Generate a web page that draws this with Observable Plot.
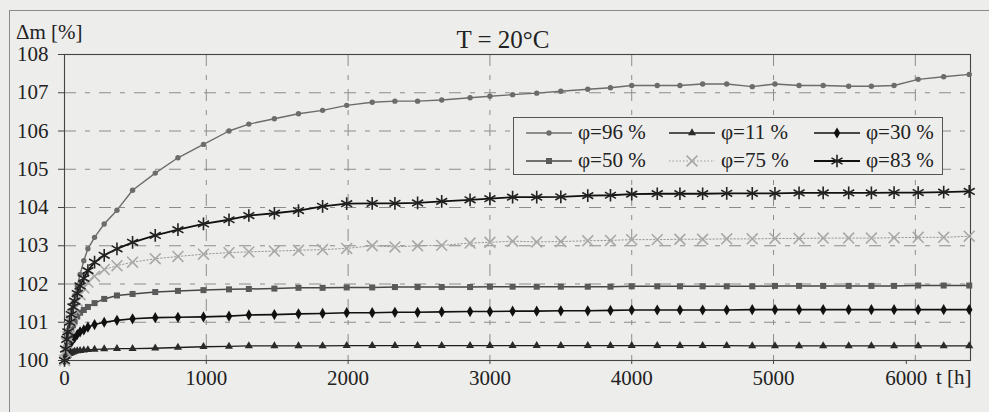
<!DOCTYPE html>
<html><head><meta charset="utf-8">
<script src="https://cdn.jsdelivr.net/npm/d3@7"></script>
<script src="https://cdn.jsdelivr.net/npm/@observablehq/plot@0.6"></script>
<style>
html,body{margin:0;padding:0;background:#ededeb;overflow:hidden;}
#fig{position:relative;width:989px;height:412px;font-family:"Liberation Serif","DejaVu Serif",serif;color:#222;overflow:hidden;}
#frame{position:absolute;left:9px;top:10px;width:1000px;height:420px;border-left:1px solid #8a8a8a;border-top:1px solid #8a8a8a;}
#chart{position:absolute;left:0;top:0;}
.lbl{position:absolute;line-height:1;white-space:nowrap;}
#legend{position:absolute;left:513px;top:117px;width:428px;height:56px;border:1px solid #555;background:#ededeb;}
.item{position:absolute;display:flex;align-items:center;font-size:21px;line-height:1;white-space:nowrap;}
.item svg{margin-right:6px;}
</style></head><body>
<div id="fig">
 <div id="frame"></div>
 <div id="chart"></div>
 <div class="lbl" style="left:16px;top:22px;font-size:21px">Δm [%]</div>
 <div class="lbl" style="left:503px;top:27px;font-size:25px;transform:translateX(-50%)">T = 20°C</div>
 <div class="lbl" style="left:936px;top:367px;font-size:21px">t [h]</div>
 <div id="legend"></div>
</div>
<script>
// ---- data ----
const tHours = [0, 8, 16, 24, 36, 48, 60, 72, 90, 110,
  136, 165, 212, 280, 370, 480, 640, 800, 980, 1160,
  1300, 1480, 1650, 1820, 1990, 2170, 2330, 2490, 2660, 2860,
  3000, 3160, 3330, 3500, 3690, 3850, 4000, 4180, 4340, 4500,
  4670, 4850, 5010, 5180, 5350, 5530, 5690, 5850, 6020, 6200,
  6380];
const phi96 = [100, 100.35, 100.6, 100.8, 101.05, 101.3, 101.5, 101.7, 101.95, 102.25,
  102.61, 102.92, 103.22, 103.57, 103.93, 104.45, 104.9, 105.3, 105.65, 106.0,
  106.18, 106.32, 106.45, 106.54, 106.67, 106.75, 106.78, 106.78, 106.81, 106.87,
  106.91, 106.95, 106.99, 107.04, 107.09, 107.13, 107.19, 107.19, 107.19, 107.23,
  107.23, 107.16, 107.23, 107.19, 107.19, 107.17, 107.17, 107.19, 107.35, 107.42,
  107.48];
const phi11 = [100, 100.05, 100.1, 100.14, 100.18, 100.2, 100.22, 100.24, 100.25, 100.26,
  100.27, 100.28, 100.29, 100.3, 100.31, 100.31, 100.32, 100.34, 100.36, 100.37,
  100.38, 100.38, 100.38, 100.38, 100.39, 100.39, 100.39, 100.39, 100.39, 100.39,
  100.39, 100.39, 100.39, 100.39, 100.39, 100.39, 100.39, 100.39, 100.39, 100.39,
  100.39, 100.38, 100.38, 100.38, 100.38, 100.38, 100.38, 100.38, 100.38, 100.38,
  100.38];
const phi30 = [100, 100.12, 100.22, 100.3, 100.4, 100.48, 100.55, 100.6, 100.68, 100.75,
  100.8, 100.87, 100.94, 101.0, 101.05, 101.09, 101.12, 101.13, 101.14, 101.16,
  101.19, 101.2, 101.22, 101.23, 101.25, 101.25, 101.26, 101.26, 101.27, 101.28,
  101.28, 101.29, 101.29, 101.3, 101.3, 101.31, 101.32, 101.32, 101.32, 101.32,
  101.32, 101.33, 101.33, 101.33, 101.33, 101.33, 101.33, 101.33, 101.33, 101.33,
  101.33];
const phi50 = [100, 100.2, 100.35, 100.5, 100.65, 100.8, 100.92, 101.02, 101.15, 101.25,
  101.32, 101.4, 101.5, 101.61, 101.7, 101.74, 101.79, 101.82, 101.84, 101.86,
  101.87, 101.88, 101.9, 101.9, 101.91, 101.91, 101.92, 101.92, 101.92, 101.92,
  101.93, 101.93, 101.93, 101.93, 101.93, 101.93, 101.94, 101.94, 101.94, 101.94,
  101.94, 101.94, 101.95, 101.95, 101.95, 101.95, 101.95, 101.95, 101.96, 101.96,
  101.96];
const phi75 = [100, 100.25, 100.45, 100.62, 100.85, 101.05, 101.2, 101.35, 101.55, 101.72,
  101.9, 102.05, 102.2, 102.38, 102.48, 102.57, 102.66, 102.72, 102.78, 102.82,
  102.84, 102.86, 102.88, 102.9, 102.93, 103.0, 102.97, 103.0, 103.01, 103.07,
  103.09, 103.12, 103.1, 103.11, 103.13, 103.14, 103.16, 103.16, 103.17, 103.17,
  103.18, 103.18, 103.19, 103.19, 103.2, 103.2, 103.2, 103.21, 103.22, 103.22,
  103.25];
const phi83 = [100, 100.3, 100.55, 100.75, 101.0, 101.2, 101.4, 101.55, 101.75, 101.95,
  102.15, 102.35, 102.57, 102.75, 102.92, 103.09, 103.27, 103.42, 103.57, 103.68,
  103.79, 103.85, 103.92, 104.03, 104.1, 104.11, 104.11, 104.12, 104.16, 104.2,
  104.23, 104.27, 104.27, 104.28, 104.31, 104.32, 104.35, 104.36, 104.36, 104.36,
  104.37, 104.37, 104.37, 104.38, 104.38, 104.38, 104.38, 104.39, 104.39, 104.4,
  104.42];
const seriesNames = ["φ=96 %", "φ=11 %", "φ=30 %", "φ=50 %", "φ=75 %", "φ=83 %"];
const seriesValues = [phi96, phi11, phi30, phi50, phi75, phi83];
const xTicks = [0, 1000, 2000, 3000, 4000, 5000, 6000];
const yTicks = [100, 101, 102, 103, 104, 105, 106, 107, 108];

// ---- styles ----
const styles = [
  {line: "#6c6c6c", lw: 1.4, dash: null, symbol: "circle", r: 2.7, fill: "#6c6c6c", stroke: "none", sw: 0},
  {line: "#1e1e1e", lw: 1.3, dash: null, symbol: "triangle", r: 3.0, fill: "#2a2a2a", stroke: "none", sw: 0},
  {line: "#111", lw: 1.6, dash: null, symbol: "diamond", r: 3.4, fill: "#111", stroke: "none", sw: 0},
  {line: "#474747", lw: 1.5, dash: null, symbol: "square", r: 3.4, fill: "#5a5a5a", stroke: "none", sw: 0},
  {line: "#9a9a9a", lw: 1.0, dash: "1.5,2", symbol: "times", r: 5, fill: "none", stroke: "#a8a8a8", sw: 1.6},
  {line: "#111", lw: 1.8, dash: null, symbol: "asterisk", r: 6, fill: "none", stroke: "#222", sw: 1.6}
];
const FONT = "'Liberation Serif','DejaVu Serif',serif";

const rows = seriesNames.map((name, i) => tHours.map((t, j) => ({series: name, t, v: seriesValues[i][j]})));

const lineMarks = rows.map((data, i) => Plot.line(data, {x: "t", y: "v", stroke: styles[i].line, strokeWidth: styles[i].lw, strokeDasharray: styles[i].dash}));
const dotMarks = rows.map((data, i) => Plot.dot(data, {x: "t", y: "v", symbol: () => styles[i].symbol, r: styles[i].r, fill: styles[i].fill, stroke: styles[i].stroke, strokeWidth: styles[i].sw}));

const gridY = yTicks.filter(v => v > 100 && v < 108);
const gridX = xTicks.filter(v => v > 0);
const axisOpts = {tickSize: 4, tickPadding: 6, tickFormat: d => String(d), label: null, fontSize: 21, stroke: "#444"};

const chart = Plot.plot({
  width: 989, height: 412,
  marginLeft: 64, marginRight: 19, marginTop: 54, marginBottom: 52,
  style: {background: "transparent", fontFamily: FONT, fontSize: "21px", color: "#222", overflow: "visible"},
  x: {domain: [0, 6389]},
  y: {domain: [100, 108]},
  marks: [
    Plot.ruleY(gridY, {stroke: "#8c8c8c", strokeWidth: 1, strokeDasharray: "12,9,5,9"}),
    Plot.ruleX(gridX, {stroke: "#8c8c8c", strokeWidth: 1, strokeDasharray: "12,9,5,9"}),
    Plot.axisX(xTicks.slice(0, -1), axisOpts),
    Plot.axisX(xTicks.slice(-1), {...axisOpts, dx: -9}),
    Plot.axisY(yTicks, {tickSize: 6, tickPadding: 10, tickFormat: d => String(d), label: null, fontSize: 21, stroke: "#444"}),
    Plot.frame({stroke: "#444", strokeWidth: 1.1}),
    ...lineMarks,
    ...dotMarks
  ]
});
document.getElementById("chart").appendChild(chart);

// ---- legend ----
const legend = document.getElementById("legend");
const lefts = [12, 155, 300];
const tops = [4, 32];
const symMap = {circle: d3.symbolCircle, triangle: d3.symbolTriangle, diamond: d3.symbolDiamond, square: d3.symbolSquare, times: d3.symbolTimes, asterisk: d3.symbolAsterisk};
seriesNames.forEach((name, i) => {
  const s = styles[i];
  const item = document.createElement("div");
  item.className = "item";
  item.style.left = lefts[i % 3] + "px";
  item.style.top = tops[Math.floor(i / 3)] + "px";
  const svg = d3.create("svg").attr("width", 46).attr("height", 20);
  svg.append("line").attr("x1", 0).attr("x2", 46).attr("y1", 10).attr("y2", 10)
    .attr("stroke", s.line).attr("stroke-width", s.lw).attr("stroke-dasharray", s.dash);
  svg.append("path").attr("transform", "translate(23,10)")
    .attr("d", d3.symbol(symMap[s.symbol], Math.PI * s.r * s.r)())
    .attr("fill", s.fill).attr("stroke", s.stroke).attr("stroke-width", s.sw);
  item.appendChild(svg.node());
  const span = document.createElement("span");
  span.textContent = name;
  item.appendChild(span);
  legend.appendChild(item);
});
</script>
</body></html>
